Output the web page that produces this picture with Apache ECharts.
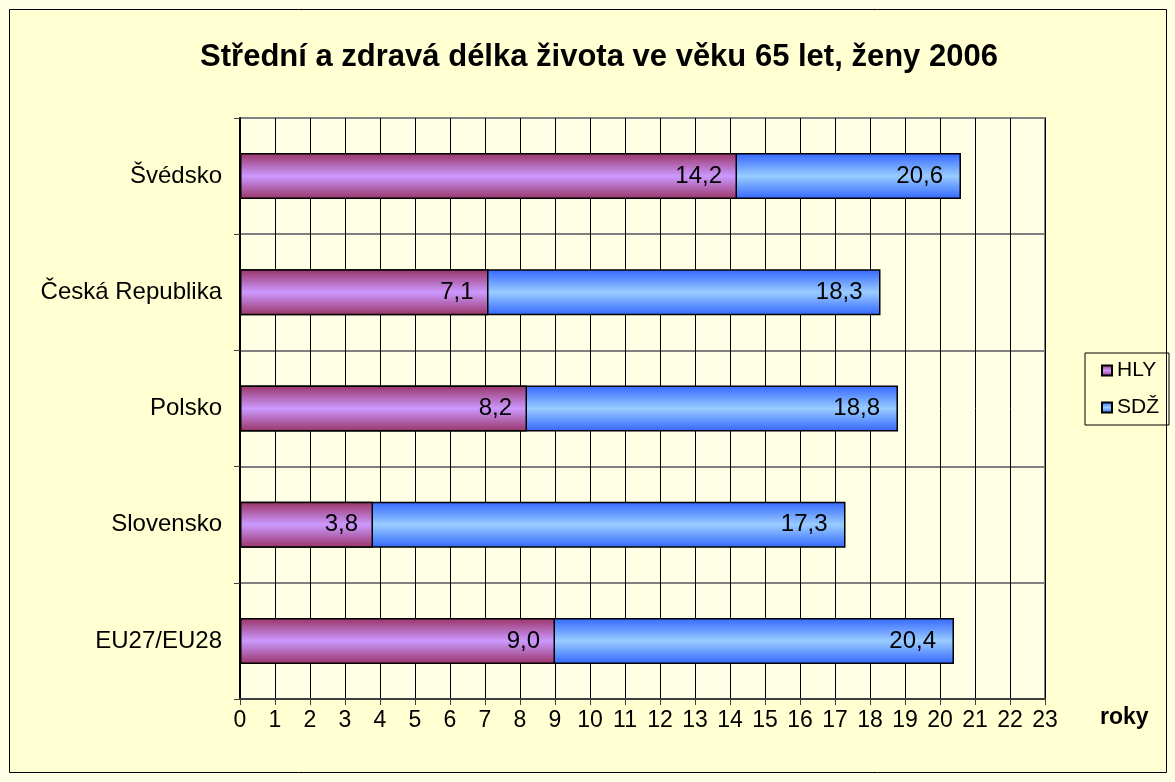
<!DOCTYPE html>
<html>
<head>
<meta charset="utf-8">
<script src="https://cdn.jsdelivr.net/npm/echarts@6/dist/echarts.min.js"></script>
<style>
  html, body { margin: 0; padding: 0; background: #ffffe6; }
  #chart { width: 1175px; height: 782px; }
</style>
</head>
<body>
<div id="chart"></div>
<script>
// data
const countries = ['Švédsko', 'Česká Republika', 'Polsko', 'Slovensko', 'EU27/EU28']
const hly = [14.2, 7.1, 8.2, 3.8, 9.0]
const sdz = [20.6, 18.3, 18.8, 17.3, 20.4]

const fmt = function (p) {
  return p.value.toFixed(1).replace('.', ',')
}

const hlyFill = new echarts.graphic.LinearGradient(0, 0, 0, 1, [
  {offset: 0, color: '#993366'},
  {offset: 0.5, color: '#cc99ff'},
  {offset: 1, color: '#993366'}
])
const sdzFill = new echarts.graphic.LinearGradient(0, 0, 0, 1, [
  {offset: 0, color: '#3366ff'},
  {offset: 0.5, color: '#99ccff'},
  {offset: 1, color: '#3366ff'}
])

const myChart = echarts.init(document.getElementById('chart'))
const option = {
  animation: false,
  textStyle: {fontFamily: 'Liberation Sans, Arial, sans-serif'},
  graphic: [
    {
      type: 'rect',
      z: -10,
      shape: {x: 9.5, y: 9.5, width: 1157, height: 763},
      style: {fill: '#ffffd2', stroke: '#000', lineWidth: 1}
    },
    {
      type: 'text',
      left: 1100,
      top: 706,
      style: {text: 'roky', font: 'bold 23px Liberation Sans, Arial', fill: '#000'}
    }
  ],
  title: {
    text: 'Střední a zdravá délka života ve věku 65 let, ženy 2006',
    left: 594,
    top: 37,
    textAlign: 'center',
    textStyle: {fontSize: 31, fontWeight: 'bold', color: '#000'}
  },
  legend: {
    data: ['HLY', 'SDŽ'],
    orient: 'vertical',
    left: 1085,
    top: 353,
    icon: 'rect',
    itemWidth: 10,
    itemHeight: 10,
    itemGap: 16,
    padding: [7, 10, 7, 16],
    borderColor: '#000',
    borderWidth: 1,
    textStyle: {fontSize: 21, color: '#000'}
  },
  grid: {
    left: 240,
    right: 130,
    top: 118,
    bottom: 83,
    show: true,
    backgroundColor: '#ffffe6',
    borderColor: '#808080',
    borderWidth: 2
  },
  xAxis: {
    type: 'value',
    min: 0,
    max: 23,
    interval: 1,
    axisLine: {show: true, lineStyle: {color: '#404040', width: 2}},
    axisTick: {show: true, length: 6, lineStyle: {color: '#404040'}},
    axisLabel: {fontSize: 23, color: '#000', margin: 10},
    splitLine: {show: true, lineStyle: {color: '#000', width: 1}}
  },
  yAxis: {
    type: 'category',
    data: countries,
    inverse: true,
    axisLine: {show: true, lineStyle: {color: '#000', width: 2}},
    axisTick: {show: true, length: 6, lineStyle: {color: '#404040'}},
    axisLabel: {fontSize: 24, color: '#000', margin: 18},
    splitLine: {show: true, lineStyle: {color: '#808080', width: 2}}
  },
  series: [
    {
      name: 'SDŽ',
      type: 'bar',
      data: sdz,
      barWidth: 46,
      itemStyle: {color: sdzFill, borderColor: '#000', borderWidth: 1.5},
      label: {show: true, position: 'insideRight', distance: 18, fontSize: 24, color: '#000', formatter: fmt}
    },
    {
      name: 'HLY',
      type: 'bar',
      data: hly,
      barWidth: 46,
      barGap: '-100%',
      itemStyle: {color: hlyFill, borderColor: '#000', borderWidth: 1.5},
      label: {show: true, position: 'insideRight', distance: 15, fontSize: 24, color: '#000', formatter: fmt}
    }
  ]
}
myChart.setOption(option)
</script>
</body>
</html>
